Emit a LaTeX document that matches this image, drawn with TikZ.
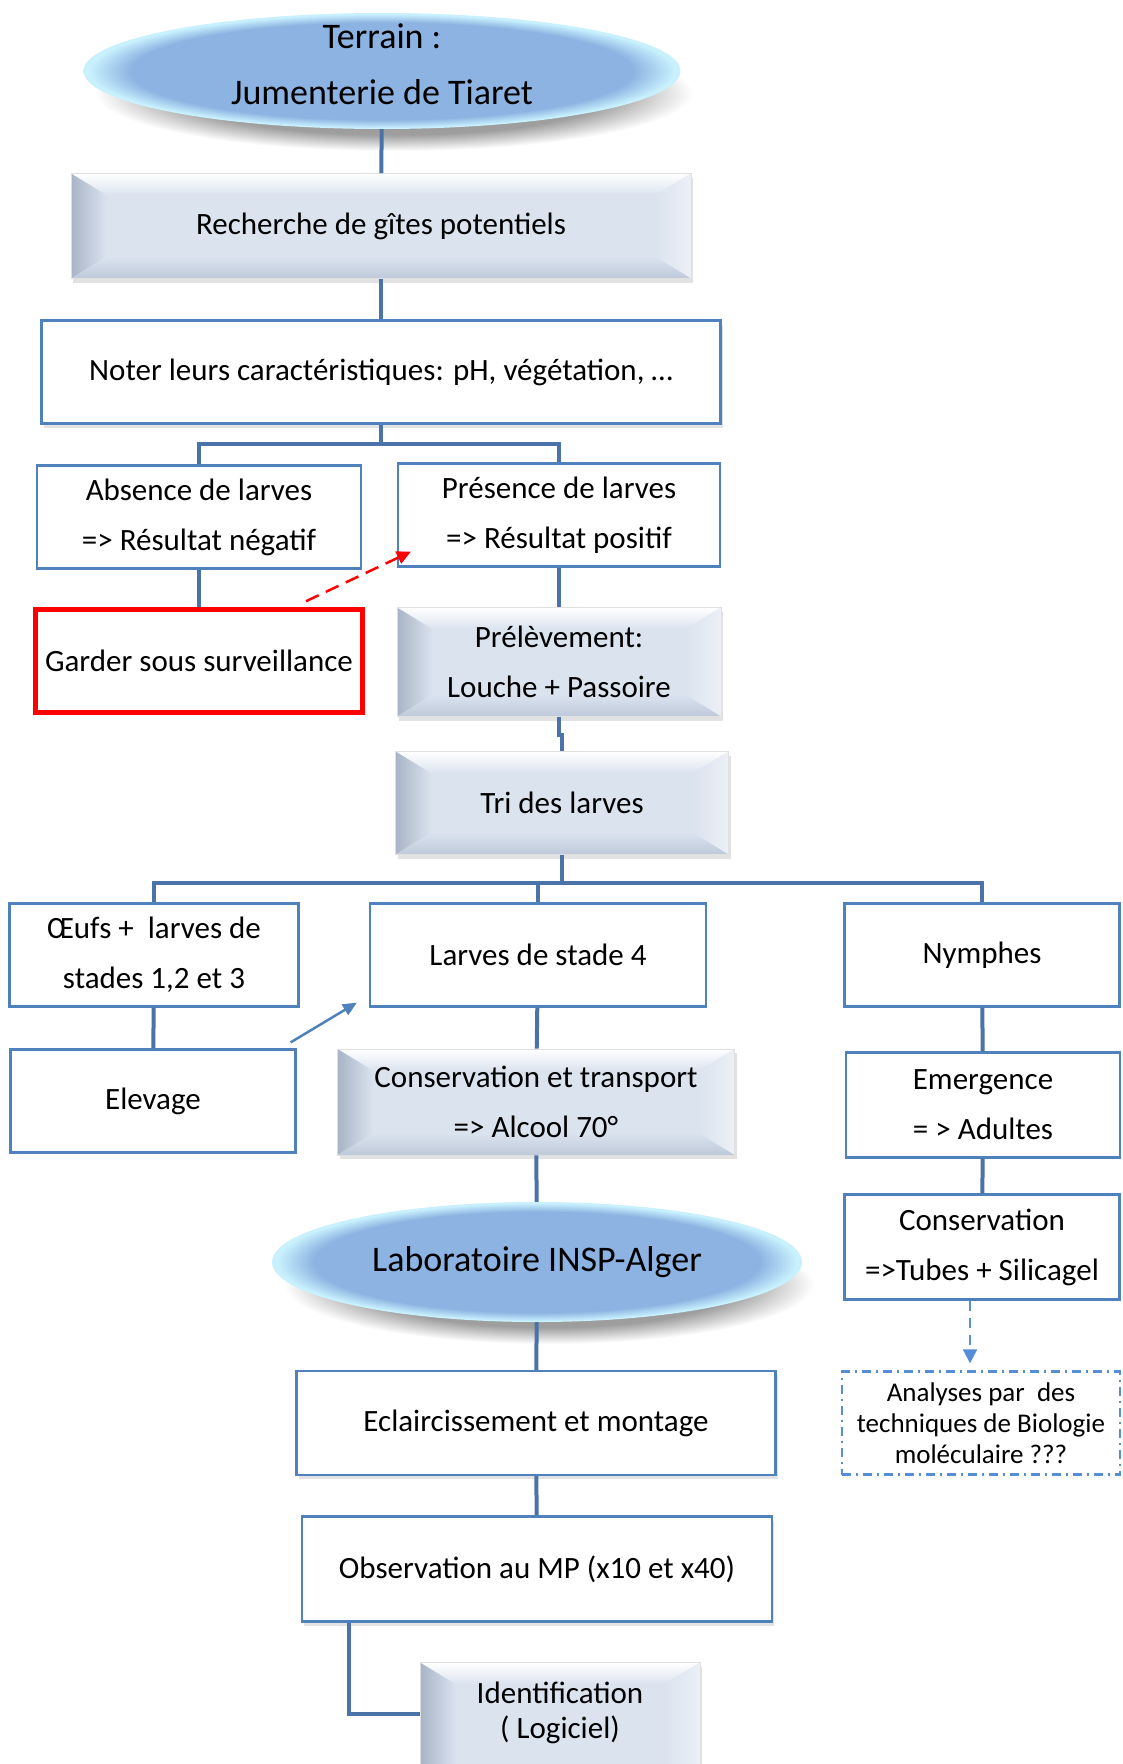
\documentclass[tikz,border=0pt]{standalone}
\usepackage{fontspec}
\setmainfont{Carlito}
\usetikzlibrary{shapes.geometric,arrows.meta,calc,shadows}

\definecolor{linkblue}{RGB}{74,115,170}
\definecolor{boxblue}{RGB}{79,129,189}
\definecolor{dashblue}{RGB}{85,142,213}
\definecolor{bevelfill}{RGB}{219,227,239}
\definecolor{bevelside}{RGB}{168,180,198}
\definecolor{bevellight}{RGB}{236,240,246}
\definecolor{bevellow}{RGB}{190,201,217}
\definecolor{lensblue}{RGB}{141,179,226}
\definecolor{lensrim}{RGB}{200,240,253}
\pgfdeclareradialshading{lens}{\pgfpoint{0bp}{0bp}}{color(0bp)=(lensblue);color(21bp)=(lensblue);color(24.5bp)=(lensrim);color(50bp)=(lensrim)}
\pgfdeclareradialshading{lensshadow}{\pgfpoint{0bp}{0bp}}{color(0bp)=(black!42);color(18bp)=(black!38);color(25bp)=(white);color(50bp)=(white)}

\tikzset{
  txt/.style={font=\fontsize{31}{50}\selectfont, align=center, inner sep=2pt},
  wh/.style 2 args={minimum width=#1pt, minimum height=#2pt},
  plain/.style={txt, draw=boxblue, line width=2.2pt, fill=white},
  lift/.style={drop shadow={shadow xshift=2pt, shadow yshift=-4pt, fill=black!22}},
  link/.style={draw=linkblue, line width=4pt},
  lens/.style={txt, ellipse, shade, shading=lens, inner sep=0pt,
    preaction={shade, shading=lensshadow, transform canvas={xshift=12pt, yshift=-22pt}}},
  bevel/.style={txt, fill=bevelfill, draw=black!12, line width=0.6pt,
    drop shadow={shadow xshift=2pt, shadow yshift=-4pt, fill=black!22},
    path picture={
      \path (path picture bounding box.north west) coordinate (bnw)
            (path picture bounding box.north east) coordinate (bne)
            (path picture bounding box.south west) coordinate (bsw)
            (path picture bounding box.south east) coordinate (bse);
      \shade[top color=white, bottom color=bevelfill] (bnw) -- (bne) -- ([xshift=-36pt,yshift=-22pt]bne) -- ([xshift=36pt,yshift=-22pt]bnw) -- cycle;
      \shade[left color=bevelside, right color=bevelfill] (bnw) -- ([xshift=36pt,yshift=-22pt]bnw) -- ([xshift=36pt,yshift=22pt]bsw) -- (bsw) -- cycle;
      \shade[left color=bevelfill, right color=bevellight] (bne) -- ([xshift=-36pt,yshift=-22pt]bne) -- ([xshift=-36pt,yshift=22pt]bse) -- (bse) -- cycle;
      \shade[top color=bevelfill, bottom color=bevellow] (bsw) -- ([xshift=36pt,yshift=22pt]bsw) -- ([xshift=-36pt,yshift=22pt]bse) -- (bse) -- cycle;
    }}
}

\begin{document}
\begin{tikzpicture}[x=1pt,y=-1pt]
  \useasboundingbox[fill=white] (0,0) rectangle (1123,1764);

  % terrain
  \node[lens, wh={597}{116}, label={[txt, font=\fontsize{36}{56}\selectfont, yshift=7pt]center:Terrain :\\Jumenterie de Tiaret}] (terrain) at (382,71) {};
  \node[bevel, wh={620}{105}] (recherche) at (381,226) {Recherche de gîtes potentiels};
  \node[plain, lift, wh={679}{103}] (noter) at (381,372) {Noter leurs caractéristiques: pH, végétation, …};
  \node[plain, wh={324}{103}] (absence) at (199,517) {Absence de larves\\=> Résultat négatif};
  \node[plain, wh={322}{103}] (presence) at (559,515) {Présence de larves\\=> Résultat positif};
  \node[txt, draw=red, line width=4.5pt, wh={327}{103}] (garder) at (199,661) {Garder sous surveillance};
  \node[bevel, wh={324}{109}] (prelevement) at (559,662) {Prélèvement:\\Louche + Passoire};
  \node[bevel, wh={333}{103}] (tri) at (562,803) {Tri des larves};

  \node[plain, wh={289}{103}] (oeufs) at (154,955) {Œufs + \ larves de\\stades 1,2 et 3};
  \node[plain, wh={336}{103}] (stade) at (538,955) {Larves de stade 4};
  \node[plain, wh={275}{103}] (nymphes) at (982,955) {Nymphes};
  \node[plain, wh={285}{103}] (elevage) at (153,1101) {Elevage};
  \node[bevel, wh={397}{106}] (transport) at (536,1102) {Conservation et transport\\=> Alcool 70°};
  \node[plain, wh={274}{105}] (emergence) at (983,1105) {Emergence\\= > Adultes};
  \node[plain, wh={275}{105}] (tubes) at (982,1247) {Conservation\\=>Tubes + Silicagel};
  \node[txt, draw=dashblue, dash pattern=on 9pt off 5pt on 2pt off 5pt, line width=2.4pt, wh={278}{103}, font=\fontsize{27}{31}\selectfont] (analyses) at (981,1423) {Analyses par \ des\\techniques de Biologie\\moléculaire ???};

  % laboratoire
  \node[lens, wh={530}{120}, font=\fontsize{36}{44}\selectfont] (labo) at (537,1262) {Laboratoire INSP-Alger};
  \node[plain, lift, wh={479}{104}] (eclair) at (536,1423) {Eclaircissement et montage};
  \node[plain, lift, wh={470}{105}] (observation) at (537,1569) {Observation au MP (x10 et x40)};
  \node[bevel, wh={280}{137}, label={[txt, font=\fontsize{31}{35}\selectfont, yshift=18pt]center:Identification\\( Logiciel)}] (ident) at (560,1731) {};

  \coordinate (split1) at (381,444);
  \coordinate (split2) at (562,883);
  \draw[link] (terrain) -- (recherche);
  \draw[link] (recherche) -- (noter);
  \draw[link] (noter) -- (split1);
  \draw[link] (absence.north) |- (split1) -| (presence.north);
  \draw[link] (absence) -- (garder);
  \draw[link] (presence) -- (prelevement);
  \draw[link] (prelevement.south) -- ++(0,18) -| (tri.north);
  \draw[link] (tri.south) -- (split2);
  \draw[link] (oeufs.north) |- (split2) -| (nymphes.north);
  \draw[link] (stade.north) -- (stade.north |- split2);
  \draw[link] (oeufs) -- (elevage);
  \draw[link] (stade) -- (transport);
  \draw[link] (nymphes) -- (emergence);
  \draw[link] (emergence) -- (tubes);
  \draw[link] (transport) -- (labo);
  \draw[link] (labo) -- (eclair);
  \draw[link] (eclair) -- (observation);
  \draw[link] ([xshift=-188pt]observation.south) |- ($(ident.west)+(0,-17)$);

  \draw[red, line width=2.5pt, dash pattern=on 14pt off 8pt, -{Triangle[length=14pt,width=13pt]}] ($(garder.north)+(107,-6)$) -- ($(presence.south west)+(14,-16)$);
  \draw[boxblue, line width=2.5pt, -{Triangle[length=14pt,width=12pt]}] ($(elevage.north east)+(-6,-6)$) -- ($(stade.south west)+(-12,-5)$);
  \draw[dashblue, line width=2pt, dash pattern=on 10pt off 7pt, -{Triangle[length=14pt,width=14pt]}] ($(tubes.south)+(-12,0)$) -- ($(analyses.north)+(-11,-7)$);
\end{tikzpicture}
\end{document}
